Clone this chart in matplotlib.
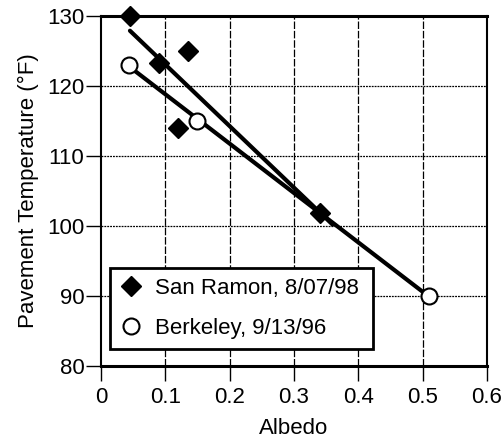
import matplotlib
matplotlib.use("Agg")
import matplotlib.pyplot as plt

plt.rcParams['font.family'] = ['Liberation Sans', 'DejaVu Sans']

# Data
sr_albedo = [0.045, 0.09, 0.135, 0.12, 0.34]
sr_temp = [130, 123.3, 125, 114, 101.8]
bk_albedo = [0.044, 0.149, 0.51]
bk_temp = [123, 115, 90]
sr_fit_x = [0.045, 0.36]
sr_fit_y = [127.9, 100.2]
bk_fit_x = [0.045, 0.51]
bk_fit_y = [122.7, 89.9]

xticks = [0, 0.1, 0.2, 0.3, 0.4, 0.5, 0.6]
xticklabels = ['0', '0.1', '0.2', '0.3', '0.4', '0.5', '0.6']
yticks = [80, 90, 100, 110, 120, 130]

fig = plt.figure(figsize=(5.03, 4.45), dpi=100)
ax = fig.add_axes([0.2008, 0.1775, 0.7674, 0.7865])

ax.set_xlim(0, 0.6)
ax.set_ylim(80, 130)

for x in xticks[1:-1]:
    ax.axvline(x, color='black', lw=0.9, ls=(0, (6, 1.5)), zorder=1)
for y in yticks[1:-1]:
    ax.axhline(y, color='black', lw=0.9, ls=(0, (1.5, 0.8)), zorder=1)

ax.plot(sr_fit_x, sr_fit_y, color='black', lw=3, zorder=2, solid_capstyle='round')
ax.plot(bk_fit_x, bk_fit_y, color='black', lw=3, zorder=2, solid_capstyle='butt')

ax.plot(sr_albedo, sr_temp, ls='none', marker='D', ms=10, color='black',
        mec='black', label='San Ramon, 8/07/98', zorder=4, clip_on=False)
ax.plot(bk_albedo, bk_temp, ls='none', marker='o', ms=11.5, mfc='white',
        mec='black', mew=1.5, label='Berkeley, 9/13/96', zorder=3, clip_on=False)

ax.set_xticks(xticks)
ax.set_xticklabels(xticklabels)
ax.set_yticks(yticks)
ax.tick_params(axis='both', direction='out', length=11, width=1, labelsize=16, colors='black')
ax.tick_params(axis='y', pad=1)
ax.tick_params(axis='x', pad=4)

for s in ['top', 'bottom']:
    ax.spines[s].set_linewidth(2.2)
for s in ['left', 'right']:
    ax.spines[s].set_linewidth(1.5)

ax.set_xlabel('Albedo', fontsize=16, labelpad=7)
ax.set_ylabel('Pavement Temperature (°F)', fontsize=16, labelpad=6)

leg = ax.legend(loc='lower left', bbox_to_anchor=(0.023, 0.049, 0.682, 0.24),
                mode='expand', fontsize=16, frameon=True, fancybox=False,
                edgecolor='black', borderpad=0.45, labelspacing=0.85,
                handletextpad=0.6, handlelength=1.0, borderaxespad=0)
leg.get_frame().set_linewidth(2)
leg.get_frame().set_alpha(1)

fig.savefig('out.png', dpi=100)
